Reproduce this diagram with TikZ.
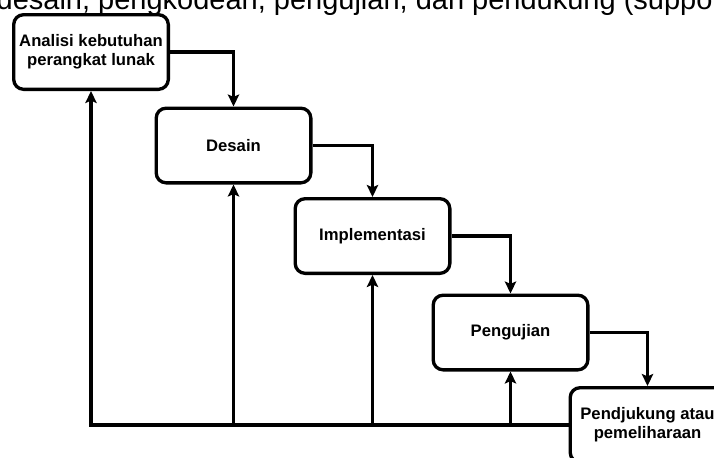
\documentclass[tikz,border=0pt]{standalone}
\usepackage{fontspec}
\setmainfont{Liberation Sans}
\usetikzlibrary{arrows.meta}
\begin{document}
\begin{tikzpicture}[x=0.75pt,y=-0.75pt,
  stage/.style={draw, line width=2.5pt, rounded corners=7.5pt,
    minimum width=116pt, minimum height=56pt, inner sep=0pt, align=center,
    font=\fontsize{12.5pt}{14.3pt}\selectfont\bfseries},
  flow/.style={line width=2.5pt, -{Stealth[length=9pt,width=8.5pt,inset=1.8pt]}}]
\useasboundingbox (0,0) rectangle (714,457);
\clip (0,0) rectangle (714,457);
\node[anchor=base west, inner sep=0pt, font=\fontsize{21.75pt}{24pt}\selectfont] (title) at (-3.6,9.5)
  {desain, pengkodean, pengujian, dan pendukung (support};
\node[stage] (b1) at (91,52) {Analisi kebutuhan\\perangkat lunak};
\node[stage] (b2) at (233.5,145.5) {Desain};
\node[stage] (b3) at (372.5,236) {Implementasi};
\node[stage] (b4) at (510.5,332.5) {Pengujian};
\node[stage] (b5) at (647.5,425) {Pendjukung atau\\pemeliharaan};
\draw[flow] (b1.east) -| (b2.north);
\draw[flow] (b2.east) -| (b3.north);
\draw[flow] (b3.east) -| (b4.north);
\draw[flow] (b4.east) -| (b5.north);
\draw[flow] (b5.west) -| (b1.south);
\draw[flow] (b5.west -| b2.south) -- (b2.south);
\draw[flow] (b5.west -| b3.south) -- (b3.south);
\draw[flow] (b5.west -| b4.south) -- (b4.south);
\end{tikzpicture}
\end{document}
